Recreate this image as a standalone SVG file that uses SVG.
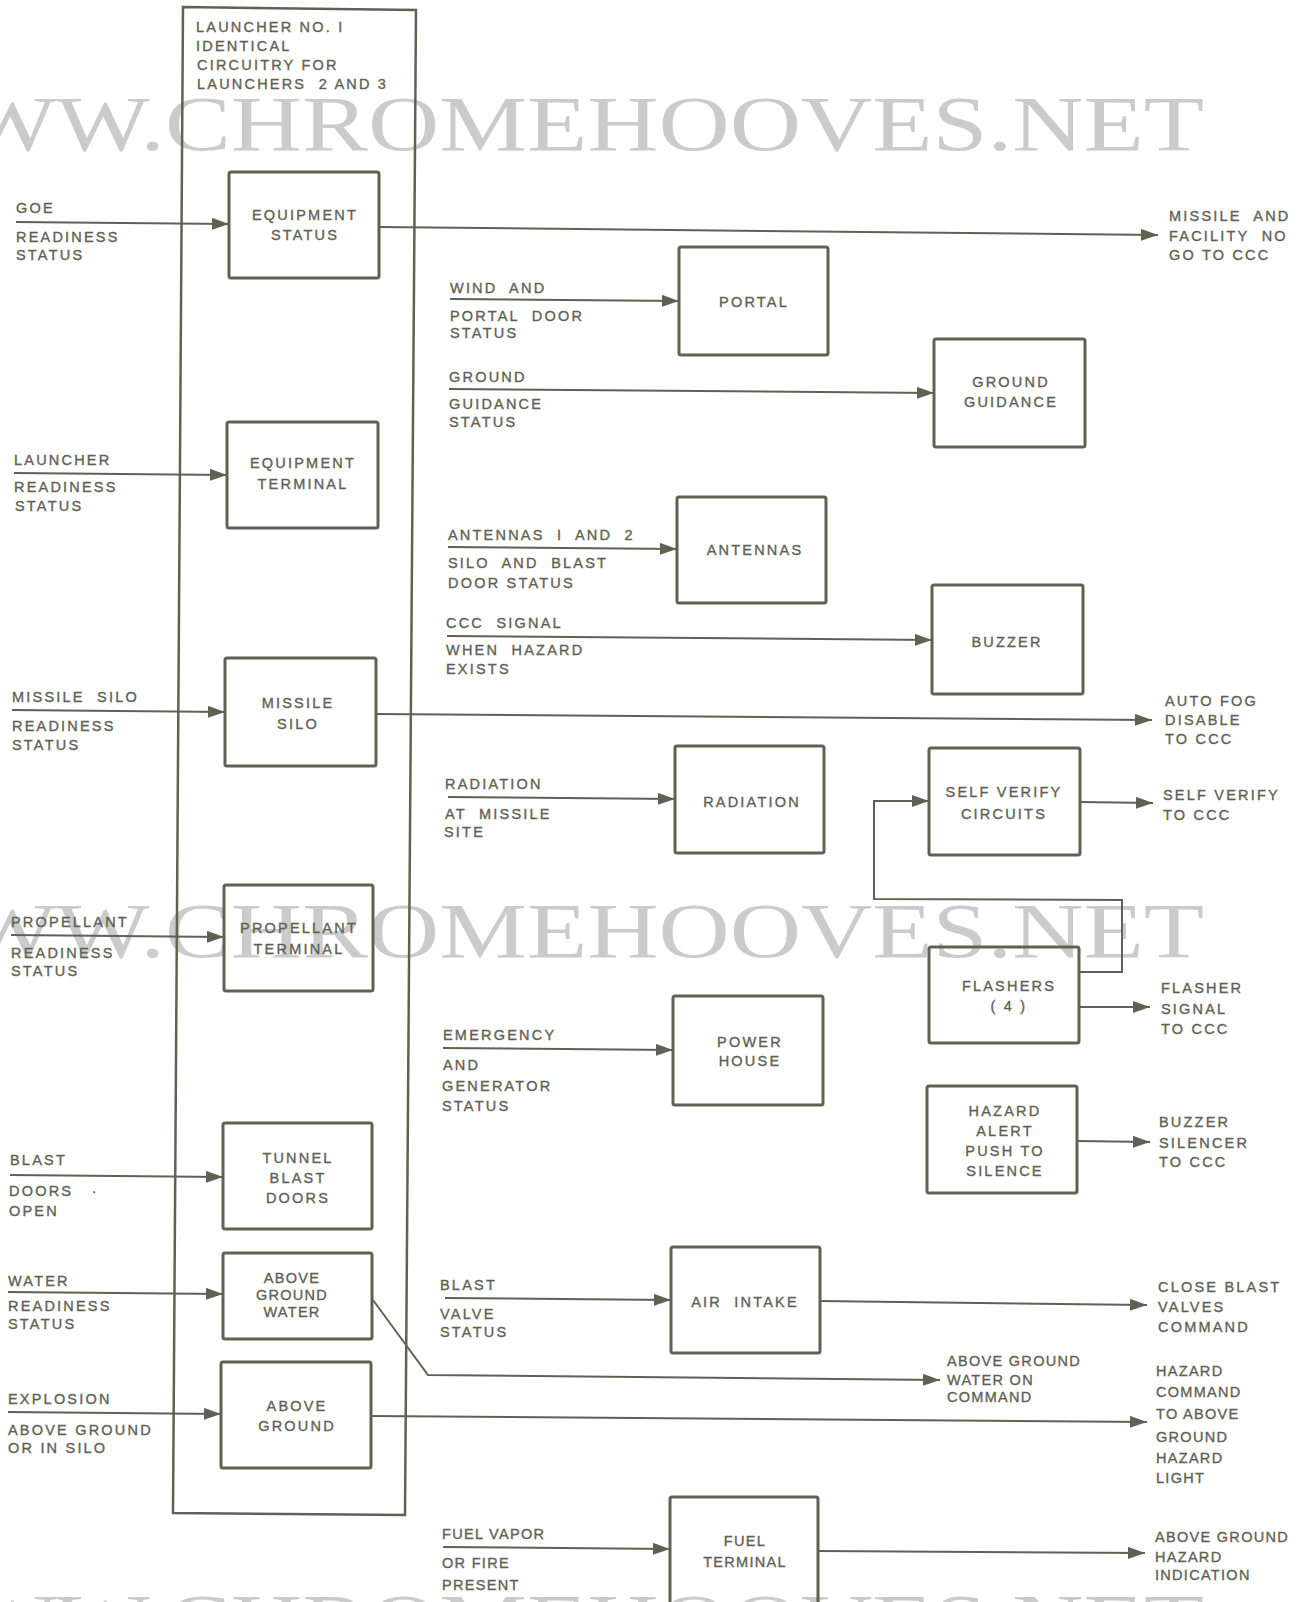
<svg xmlns="http://www.w3.org/2000/svg" width="1305" height="1602" viewBox="0 0 1305 1602" xml:space="preserve">
<style>
.bg{fill:#ffffff}
.wm{font-family:"Liberation Serif",serif;font-size:78px;fill:#cbcbcb}
.box{fill:none;stroke:#5f6253;stroke-width:3;stroke-linejoin:round}
.outer{fill:none;stroke:#5f6253;stroke-width:2.5}
.c{fill:none;stroke:#5f6253;stroke-width:2}
.t{font-family:"Liberation Sans",Arial,sans-serif;font-size:14.5px;letter-spacing:2.2px;fill:#5f6253;stroke:#5f6253;stroke-width:0.35;white-space:pre}
.n{letter-spacing:1.3px}
.m{text-anchor:middle}
</style>
<defs>
<marker id="ah" markerUnits="userSpaceOnUse" markerWidth="18" markerHeight="12" refX="17" refY="6" orient="auto">
<path d="M0,0 L17,6 L0,12 z" fill="#5f6253"/>
</marker>
</defs>
<rect class="bg" x="0" y="0" width="1305" height="1602"/>
<g id="watermarks">
<text class="wm" x="-130" y="150" textLength="1334" lengthAdjust="spacingAndGlyphs">WWW.CHROMEHOOVES.NET</text>
<text class="wm" x="-130" y="957" textLength="1334" lengthAdjust="spacingAndGlyphs">WWW.CHROMEHOOVES.NET</text>
<text class="wm" x="-130" y="1648" textLength="1334" lengthAdjust="spacingAndGlyphs">WWW.CHROMEHOOVES.NET</text>
</g>
<g id="launcher">
<path class="outer" d="M183,7 L416,10 L405,1515 L173,1513 Z"/>
<text class="t" x="196" y="32">LAUNCHER NO. I</text>
<text class="t" x="196" y="51">IDENTICAL</text>
<text class="t" x="197" y="70">CIRCUITRY FOR</text>
<text class="t" x="197" y="89">LAUNCHERS  2 AND 3</text>
</g>
<g id="connectors">
<path class="c" d="M16,222 L229,224" marker-end="url(#ah)"/>
<path class="c" d="M379,227 L1158,235" marker-end="url(#ah)"/>
<path class="c" d="M14,473 L227,475" marker-end="url(#ah)"/>
<path class="c" d="M12,710 L225,712" marker-end="url(#ah)"/>
<path class="c" d="M376,714 L1152,720" marker-end="url(#ah)"/>
<path class="c" d="M11,935 L224,937" marker-end="url(#ah)"/>
<path class="c" d="M10,1175 L223,1177" marker-end="url(#ah)"/>
<path class="c" d="M8,1292 L223,1294" marker-end="url(#ah)"/>
<path class="c" d="M8,1412 L221,1414" marker-end="url(#ah)"/>
<path class="c" d="M373,1300 L428,1375 L940,1380" marker-end="url(#ah)"/>
<path class="c" d="M371,1416 L1147,1422" marker-end="url(#ah)"/>
<path class="c" d="M450,299 L679,301" marker-end="url(#ah)"/>
<path class="c" d="M449,389 L934,393" marker-end="url(#ah)"/>
<path class="c" d="M448,547 L677,549" marker-end="url(#ah)"/>
<path class="c" d="M447,636 L932,640" marker-end="url(#ah)"/>
<path class="c" d="M448,797 L675,799" marker-end="url(#ah)"/>
<path class="c" d="M443,1048 L673,1050" marker-end="url(#ah)"/>
<path class="c" d="M445,1298 L671,1300" marker-end="url(#ah)"/>
<path class="c" d="M820,1301 L1147,1305" marker-end="url(#ah)"/>
<path class="c" d="M443,1547 L670,1549" marker-end="url(#ah)"/>
<path class="c" d="M818,1551 L1145,1553" marker-end="url(#ah)"/>
<path class="c" d="M1080,802 L1153,803" marker-end="url(#ah)"/>
<path class="c" d="M1079,1007 L1150,1007" marker-end="url(#ah)"/>
<path class="c" d="M1077,1141 L1150,1142" marker-end="url(#ah)"/>
<path class="c" d="M1079,972 L1122,972 L1122,900 L874,899 L874,801 L929,801" marker-end="url(#ah)"/>
</g>
<g id="input-labels">
<text class="t" x="16" y="213">GOE</text>
<text class="t" x="16" y="242">READINESS</text>
<text class="t" x="16" y="260">STATUS</text>
<text class="t" x="14" y="465">LAUNCHER</text>
<text class="t" x="14" y="492">READINESS</text>
<text class="t" x="15" y="511">STATUS</text>
<text class="t" x="12" y="702">MISSILE  SILO</text>
<text class="t" x="12" y="731">READINESS</text>
<text class="t" x="12" y="750">STATUS</text>
<text class="t" x="11" y="927">PROPELLANT</text>
<text class="t" x="11" y="958">READINESS</text>
<text class="t" x="11" y="976">STATUS</text>
<text class="t" x="10" y="1165">BLAST</text>
<text class="t" x="9" y="1196">DOORS   ·</text>
<text class="t" x="9" y="1216">OPEN</text>
<text class="t" x="8" y="1286">WATER</text>
<text class="t" x="8" y="1311">READINESS</text>
<text class="t" x="8" y="1329">STATUS</text>
<text class="t" x="8" y="1404">EXPLOSION</text>
<text class="t" x="8" y="1435">ABOVE GROUND</text>
<text class="t" x="8" y="1453">OR IN SILO</text>
<text class="t" x="450" y="293">WIND  AND</text>
<text class="t" x="450" y="321">PORTAL  DOOR</text>
<text class="t" x="450" y="338">STATUS</text>
<text class="t" x="449" y="382">GROUND</text>
<text class="t" x="449" y="409">GUIDANCE</text>
<text class="t" x="449" y="427">STATUS</text>
<text class="t" x="448" y="540">ANTENNAS  I  AND  2</text>
<text class="t" x="448" y="568">SILO  AND  BLAST</text>
<text class="t" x="448" y="588">DOOR STATUS</text>
<text class="t" x="446" y="628">CCC  SIGNAL</text>
<text class="t" x="446" y="655">WHEN  HAZARD</text>
<text class="t" x="446" y="674">EXISTS</text>
<text class="t" x="445" y="789">RADIATION</text>
<text class="t" x="445" y="819">AT  MISSILE</text>
<text class="t" x="444" y="837">SITE</text>
<text class="t" x="443" y="1040">EMERGENCY</text>
<text class="t" x="443" y="1070">AND</text>
<text class="t" x="442" y="1091">GENERATOR</text>
<text class="t" x="442" y="1111">STATUS</text>
<text class="t" x="440" y="1290">BLAST</text>
<text class="t" x="440" y="1319">VALVE</text>
<text class="t" x="440" y="1337">STATUS</text>
<text class="t n" x="442" y="1539">FUEL VAPOR</text>
<text class="t n" x="442" y="1568">OR FIRE</text>
<text class="t n" x="442" y="1590">PRESENT</text>
</g>
<g id="output-labels">
<text class="t" x="1169" y="221">MISSILE  AND</text>
<text class="t" x="1169" y="241">FACILITY  NO</text>
<text class="t" x="1169" y="260">GO TO CCC</text>
<text class="t" x="1165" y="706">AUTO FOG</text>
<text class="t" x="1165" y="725">DISABLE</text>
<text class="t" x="1165" y="744">TO CCC</text>
<text class="t" x="1163" y="800">SELF VERIFY</text>
<text class="t" x="1163" y="820">TO CCC</text>
<text class="t" x="1161" y="993">FLASHER</text>
<text class="t" x="1161" y="1014">SIGNAL</text>
<text class="t" x="1161" y="1034">TO CCC</text>
<text class="t" x="1159" y="1127">BUZZER</text>
<text class="t" x="1159" y="1148">SILENCER</text>
<text class="t" x="1159" y="1167">TO CCC</text>
<text class="t" x="1158" y="1292">CLOSE BLAST</text>
<text class="t" x="1158" y="1312">VALVES</text>
<text class="t" x="1158" y="1332">COMMAND</text>
<text class="t n" x="947" y="1366">ABOVE GROUND</text>
<text class="t n" x="947" y="1385">WATER ON</text>
<text class="t n" x="947" y="1402">COMMAND</text>
<text class="t n" x="1156" y="1376">HAZARD</text>
<text class="t n" x="1156" y="1397">COMMAND</text>
<text class="t n" x="1156" y="1419">TO ABOVE</text>
<text class="t n" x="1156" y="1442">GROUND</text>
<text class="t n" x="1156" y="1463">HAZARD</text>
<text class="t n" x="1156" y="1483">LIGHT</text>
<text class="t n" x="1155" y="1542">ABOVE GROUND</text>
<text class="t n" x="1155" y="1562">HAZARD</text>
<text class="t n" x="1155" y="1580">INDICATION</text>
</g>
<g id="equipment-status"><rect class="box" x="229" y="172" width="150" height="106" rx="2"/><text class="t m" x="305" y="220">EQUIPMENT</text><text class="t m" x="305" y="240">STATUS</text></g>
<g id="equipment-terminal"><rect class="box" x="227" y="422" width="151" height="106" rx="2"/><text class="t m" x="303" y="468">EQUIPMENT</text><text class="t m" x="303" y="489">TERMINAL</text></g>
<g id="missile-silo"><rect class="box" x="225" y="658" width="151" height="108" rx="2"/><text class="t m" x="298" y="708">MISSILE</text><text class="t m" x="298" y="729">SILO</text></g>
<g id="propellant-terminal"><rect class="box" x="224" y="885" width="149" height="106" rx="2"/><text class="t m" x="299" y="933">PROPELLANT</text><text class="t m" x="299" y="954">TERMINAL</text></g>
<g id="tunnel-blast-doors"><rect class="box" x="223" y="1123" width="149" height="106" rx="2"/><text class="t m" x="298" y="1163">TUNNEL</text><text class="t m" x="298" y="1183">BLAST</text><text class="t m" x="298" y="1203">DOORS</text></g>
<g id="above-ground-water"><rect class="box" x="223" y="1253" width="149" height="86" rx="2"/><text class="t m n" x="292" y="1283">ABOVE</text><text class="t m n" x="292" y="1300">GROUND</text><text class="t m n" x="292" y="1317">WATER</text></g>
<g id="above-ground"><rect class="box" x="221" y="1362" width="150" height="106" rx="2"/><text class="t m" x="297" y="1411">ABOVE</text><text class="t m" x="297" y="1431">GROUND</text></g>
<g id="portal"><rect class="box" x="679" y="247" width="149" height="108" rx="2"/><text class="t m" x="754" y="307">PORTAL</text></g>
<g id="ground-guidance"><rect class="box" x="934" y="339" width="151" height="108" rx="2"/><text class="t m" x="1011" y="387">GROUND</text><text class="t m" x="1011" y="407">GUIDANCE</text></g>
<g id="antennas"><rect class="box" x="677" y="497" width="149" height="106" rx="2"/><text class="t m" x="755" y="555">ANTENNAS</text></g>
<g id="buzzer"><rect class="box" x="932" y="585" width="151" height="109" rx="2"/><text class="t m" x="1007" y="647">BUZZER</text></g>
<g id="radiation"><rect class="box" x="675" y="746" width="149" height="107" rx="2"/><text class="t m" x="752" y="807">RADIATION</text></g>
<g id="self-verify-circuits"><rect class="box" x="929" y="748" width="151" height="107" rx="2"/><text class="t m" x="1004" y="797">SELF VERIFY</text><text class="t m" x="1004" y="819">CIRCUITS</text></g>
<g id="flashers"><rect class="box" x="929" y="947" width="150" height="96" rx="2"/><text class="t m" x="1009" y="991">FLASHERS</text><text class="t m" x="1009" y="1011">( 4 )</text></g>
<g id="power-house"><rect class="box" x="673" y="996" width="150" height="109" rx="2"/><text class="t m" x="750" y="1047">POWER</text><text class="t m" x="750" y="1066">HOUSE</text></g>
<g id="hazard-alert"><rect class="box" x="927" y="1086" width="150" height="107" rx="2"/><text class="t m" x="1005" y="1116">HAZARD</text><text class="t m" x="1005" y="1136">ALERT</text><text class="t m" x="1005" y="1156">PUSH TO</text><text class="t m" x="1005" y="1176">SILENCE</text></g>
<g id="air-intake"><rect class="box" x="671" y="1247" width="149" height="106" rx="2"/><text class="t m" x="745" y="1307">AIR  INTAKE</text></g>
<g id="fuel-terminal"><rect class="box" x="670" y="1497" width="148" height="120" rx="2"/><text class="t m n" x="745" y="1546">FUEL</text><text class="t m n" x="745" y="1567">TERMINAL</text></g>
</svg>
